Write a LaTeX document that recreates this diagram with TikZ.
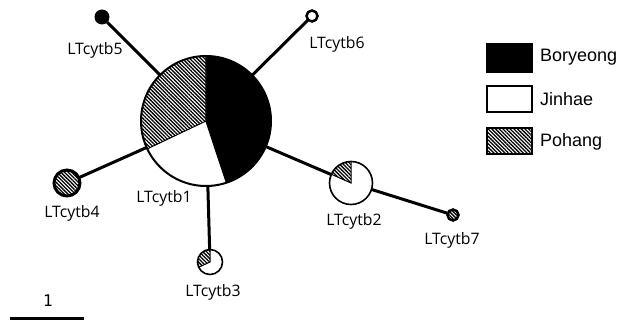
\documentclass[tikz,border=0pt]{standalone}
\usepackage{fontspec}
\setmainfont{Open Sans}
\newfontfamily\legendfont{Liberation Sans}
\newfontfamily\scalefont{DejaVu Sans Mono}
\usetikzlibrary{patterns.meta}
\tikzset{
  hap/.style={circle, inner sep=0pt, outer sep=0pt, minimum size=#1},
  link/.style={line width=3pt},
  rim/.style={line width=2pt},
  hatch/.style={pattern={Lines[angle=-45, distance=2.6pt, line width=1.3pt]}},
  lbl/.style={font=\fontsize{15.8}{18}\selectfont, inner sep=0pt},
  legtxt/.style={font=\legendfont\fontsize{18}{20}\selectfont, anchor=west, inner sep=0pt},
  legbox/.style={line width=2.5pt}
}
\begin{document}
\begin{tikzpicture}[x=1pt, y=1pt]
\useasboundingbox (0,0) rectangle (624,-321);

% haplotype positions (circle sizes follow the counts)
\node[hap=130pt] (h1) at (206,-121) {};
\node[hap=15pt]  (h5) at (102,-17) {};
\node[hap=12pt]  (h6) at (312,-16) {};
\node[hap=28pt]  (h4) at (67,-183) {};
\node[hap=26pt]  (h3) at (210,-262) {};
\node[hap=44pt]  (h2) at (351,-183) {};
\node[hap=12.5pt] (h7) at (453,-215) {};

% network branches
\draw[link] (h1) -- (h5);
\draw[link] (h1) -- (h6);
\draw[link] (h1) -- (h4);
\draw[link] (h1) -- (h3);
\draw[link] (h1) -- (h2);
\draw[link] (h2) -- (h7);

% LTcytb1: Boryeong / Jinhae / Pohang
\fill[black] (h1.center) -- ++(90:65) arc[start angle=90, end angle=-71.6, radius=65] -- cycle;
\fill[white] (h1.center) -- ++(205.4:65) arc[start angle=205.4, end angle=288.4, radius=65] -- cycle;
\fill[white] (h1.center) -- ++(90:65) arc[start angle=90, end angle=205.4, radius=65] -- cycle;
\path[hatch] (h1.center) -- ++(90:65) arc[start angle=90, end angle=205.4, radius=65] -- cycle;
\draw[line width=1.4pt] (h1.center) ++(90:65) -- (h1.center) -- ++(-71.6:65);
\draw[line width=1pt] (h1.center) -- ++(205.4:65);
\draw[rim] (h1.center) circle[radius=65];

% LTcytb5 (Boryeong) and LTcytb6 (Jinhae)
\fill[black] (h5.center) circle[radius=7.5];
\draw[line width=2.5pt, fill=white] (h6.center) circle[radius=5.5];

% LTcytb4 and LTcytb7 (Pohang)
\fill[white] (h4.center) circle[radius=13];
\path[hatch] (h4.center) circle[radius=13];
\draw[line width=3pt] (h4.center) circle[radius=13];
\fill[white] (h7.center) circle[radius=5.5];
\path[hatch] (h7.center) circle[radius=5.5];
\draw[line width=2.5pt] (h7.center) circle[radius=5.5];

% LTcytb3: Jinhae / Pohang
\fill[white] (h3.center) circle[radius=12.5];
\path[hatch] (h3.center) -- ++(90:12.5) arc[start angle=90, end angle=205, radius=12.5] -- cycle;
\draw[line width=1pt] (h3.center) ++(90:12.5) -- (h3.center) -- ++(205:12.5);
\draw[line width=1.6pt] (h3.center) circle[radius=12.5];

% LTcytb2: Jinhae / Pohang
\fill[white] (h2.center) circle[radius=21.5];
\path[hatch] (h2.center) -- ++(90:21.5) arc[start angle=90, end angle=156, radius=21.5] -- cycle;
\draw[line width=1pt] (h2.center) ++(90:21.5) -- (h2.center) -- ++(156:21.5);
\draw[line width=1.6pt] (h2.center) circle[radius=21.5];

% haplotype labels
\node[lbl] (t5) at (95,-50)  {LTcytb5};
\node[lbl] (t6) at (337,-44) {LTcytb6};
\node[lbl] (t4) at (72,-213) {LTcytb4};
\node[lbl] (t1) at (164,-198) {LTcytb1};
\node[lbl] (t2) at (354,-221) {LTcytb2};
\node[lbl] (t3) at (213,-292) {LTcytb3};
\node[lbl] (t7) at (452,-240) {LTcytb7};

% legend
\draw[legbox, fill=black] (487,-44) rectangle (532,-72);
\draw[legbox, fill=white] (487,-86) rectangle (532,-112);
\fill[white] (487,-128) rectangle (532,-154);
\path[hatch] (487,-128) rectangle (532,-154);
\draw[legbox] (487,-128) rectangle (532,-154);
\node[legtxt] (lb) at (540,-57)  {Boryeong};
\node[legtxt] (lj) at (540,-99)  {Jinhae};
\node[legtxt] (lp) at (540,-142) {Pohang};

% scale bar: one mutation step
\coordinate (s0) at (10,-318);
\coordinate (s1) at (84,-318);
\draw[line width=3pt] (s0) -- (s1);
\node[font=\scalefont\fontsize{16}{18}\selectfont, inner sep=0pt] (sl) at (48,-301) {1};
\end{tikzpicture}
\end{document}
